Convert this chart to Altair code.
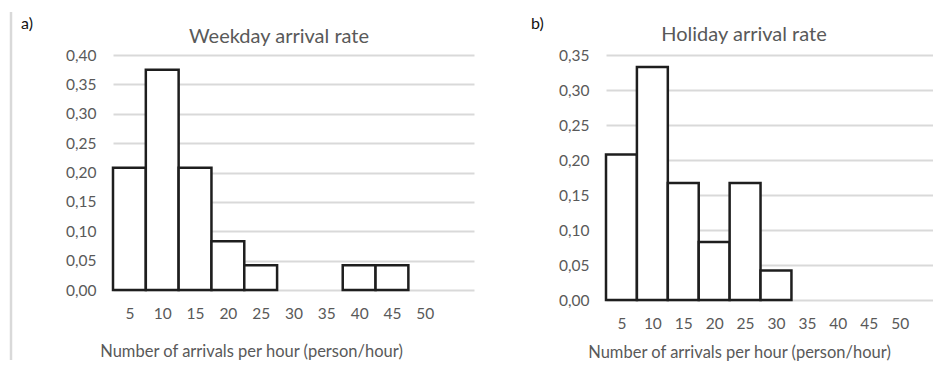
import altair as alt
import pandas as pd

# ---- data ----
bins = [5, 10, 15, 20, 25, 30, 35, 40, 45, 50]
weekday = [0.208, 0.375, 0.208, 0.083, 0.042, 0.0, 0.0, 0.042, 0.042, 0.0]
holiday = [0.208, 0.333, 0.167, 0.083, 0.167, 0.042, 0.0, 0.0, 0.0, 0.0]
weekday_ticks = [0.0, 0.05, 0.10, 0.15, 0.20, 0.25, 0.30, 0.35, 0.40]
holiday_ticks = [0.0, 0.05, 0.10, 0.15, 0.20, 0.25, 0.30, 0.35]
titles = ["Weekday arrival rate", "Holiday arrival rate"]
letters = ["a)", "b)"]
x_title = "Number of arrivals per hour (person/hour)"

FONT = "Lato"
GREY = "#595959"
GRID = "#d9d9d9"


def panel(values, yticks, ymax, letter, title, width, height, xmax,
          title_x, title_y, letter_x, axis_title_x, axis_title_y, rule=False):
    df = pd.DataFrame({"x": bins, "v": values})
    bars = (
        alt.Chart(df)
        .transform_filter("datum.v > 0")
        .transform_calculate(lo="datum.x - 2.5", hi="datum.x + 2.5", zero="0")
        .mark_rect(fill="white", stroke="#1e1e1e", strokeWidth=2.5)
        .encode(
            x=alt.X(
                "lo:Q",
                scale=alt.Scale(domain=[2.5, xmax], nice=False, zero=False),
                axis=alt.Axis(
                    values=bins, title=x_title, grid=False, ticks=False, domain=False,
                    labelPadding=16, labelFontSize=15.5, labelColor=GREY, labelFont=FONT,
                    titleFont=FONT, titleFontSize=16.5, titleColor=GREY, titleFontWeight="normal",
                    titleX=axis_title_x, titleY=axis_title_y, titleBaseline="middle",
                    titleAlign="center", titleAnchor="start",
                ),
            ),
            x2="hi:Q",
            y=alt.Y(
                "v:Q",
                scale=alt.Scale(domain=[0, ymax], nice=False),
                axis=alt.Axis(
                    values=yticks, title=None, ticks=False, domain=False, grid=True,
                    gridColor=GRID, gridWidth=2, labelPadding=17, labelFontSize=15.5,
                    labelColor=GREY, labelFont=FONT,
                    labelExpr="replace(format(datum.value, '.2f'), '.', ',')",
                ),
            ),
            y2="zero:Q",
        )
    )
    letter_layer = (
        alt.Chart(pd.DataFrame({"t": [letter]}))
        .mark_text(align="left", baseline="middle", fontSize=16, color="#111111", font=FONT)
        .encode(x=alt.value(letter_x), y=alt.value(-31), text="t:N")
    )
    title_layer = (
        alt.Chart(pd.DataFrame({"t": [title]}))
        .mark_text(align="center", baseline="middle", fontSize=20, color=GREY, font=FONT)
        .encode(x=alt.value(title_x), y=alt.value(title_y), text="t:N")
    )
    layers = [bars, letter_layer, title_layer]
    if rule:
        rule_layer = (
            alt.Chart(pd.DataFrame({"t": [0]}))
            .mark_rule(color=GRID, strokeWidth=2.5)
            .encode(x=alt.value(-102), y=alt.value(-43), y2=alt.value(305))
        )
        layers = [rule_layer] + layers
    return alt.layer(*layers).properties(width=width, height=height)


a = panel(weekday, weekday_ticks, 0.40, letters[0], titles[0], 361, 235, 57.5,
          title_x=166, title_y=-18, letter_x=-92, axis_title_x=138, axis_title_y=61, rule=True)
b = panel(holiday, holiday_ticks, 0.35, letters[1], titles[1], 327, 245, 55.4,
          title_x=138, title_y=-20, letter_x=-75, axis_title_x=133, axis_title_y=52)

chart = (
    alt.hconcat(a, b, spacing=57)
    .properties(padding={"left": 1, "top": 2, "right": 0, "bottom": 0}, background="white")
    .configure_view(stroke=None)
)

chart.save("out.html", embed_options={"renderer": "svg", "actions": False})
